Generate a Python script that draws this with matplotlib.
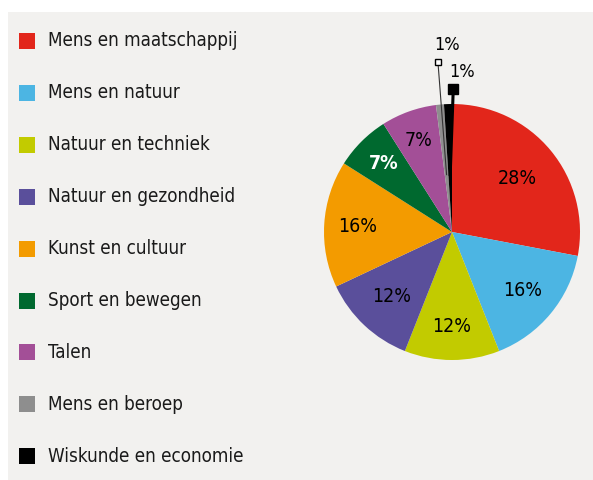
import matplotlib
matplotlib.use("Agg")
import matplotlib.pyplot as plt
from matplotlib.patches import Rectangle
import numpy as np

categories = ["Mens en maatschappij", "Mens en natuur", "Natuur en techniek",
              "Natuur en gezondheid", "Kunst en cultuur", "Sport en bewegen",
              "Talen", "Mens en beroep", "Wiskunde en economie"]
values = [28, 16, 12, 12, 16, 7, 7, 1, 1]
colors = ["#e2261b", "#4cb5e3", "#c2cb00", "#5a4f9b", "#f39b00",
          "#00692f", "#a34f97", "#8e8e8e", "#000000"]
label_colors = ["black", "black", "black", "black", "black", "white", "black", "black", "black"]

plt.rcParams['font.family'] = ['DejaVu Sans']
plt.rcParams['font.stretch'] = 'condensed'

W, H = 593, 480
fig = plt.figure(figsize=(W / 100, H / 100), dpi=100)
fig.patch.set_facecolor("white")
bg = "#f2f1ef"
fig.add_artist(Rectangle((8 / W, 0), 1 - 8 / W, 1 - 12 / H, transform=fig.transFigure,
                         facecolor=bg, edgecolor="none", zorder=0))

# legend
for i, (cat, col) in enumerate(zip(categories, colors)):
    yc = 1 - (41 + i * 51.9) / H
    fig.add_artist(Rectangle((19 / W, yc - 8 / H), 16 / W, 16 / H, transform=fig.transFigure,
                             facecolor=col, edgecolor="none", zorder=2))
    fig.text(48 / W, yc, cat, fontsize=13.5, va="center", ha="left", color="#1a1a1a",
             fontstretch="condensed", zorder=3)

# pie
cx, cy, r = 452, 232, 128
ax = fig.add_axes([(cx - r) / W, 1 - (cy + r) / H, 2 * r / W, 2 * r / H])
ax.axis("off")
wedges, _ = ax.pie(values, colors=colors, startangle=90, counterclock=False,
                   radius=1, wedgeprops=dict(linewidth=0))
ax.set_xlim(-1, 1)
ax.set_ylim(-1, 1)
ax.set_aspect("equal")

label_r = [0.66, 0.72, 0.74, 0.69, 0.74, 0.76, 0.76]
for i, w in enumerate(wedges):
    ang = np.deg2rad((w.theta1 + w.theta2) / 2)
    if values[i] > 1:
        rr = label_r[i]
        ax.text(rr * np.cos(ang), rr * np.sin(ang), f"{values[i]}%", ha="center", va="center",
                fontsize=14, color=label_colors[i], fontstretch="condensed",
                fontweight="bold" if i == 5 else "normal")

# leader annotations for small slices
sq_pos = {7: (-0.11, 1.33), 8: (0.01, 1.12)}
txt_pos = {7: (-0.04, 1.46), 8: (0.08, 1.25)}
for i in (7, 8):
    w = wedges[i]
    ang = np.deg2rad((w.theta1 + w.theta2) / 2)
    x0, y0 = 0.45 * np.cos(ang), 0.45 * np.sin(ang)
    sx, sy = sq_pos[i]
    ax.plot([x0, sx], [y0, sy], color="black" if i == 8 else "#333333",
            lw=2.2 if i == 8 else 0.8, clip_on=False, zorder=5)
    ax.plot([sx], [sy], marker="s", markersize=7 if i == 8 else 5,
            markerfacecolor="black" if i == 8 else "white", markeredgecolor="black",
            markeredgewidth=1, clip_on=False, zorder=6)
    ax.text(txt_pos[i][0], txt_pos[i][1], f"{values[i]}%", ha="center", va="center",
            fontsize=13, color="black", fontstretch="condensed", clip_on=False)

fig.savefig("out.png", dpi=100, facecolor=fig.get_facecolor())
